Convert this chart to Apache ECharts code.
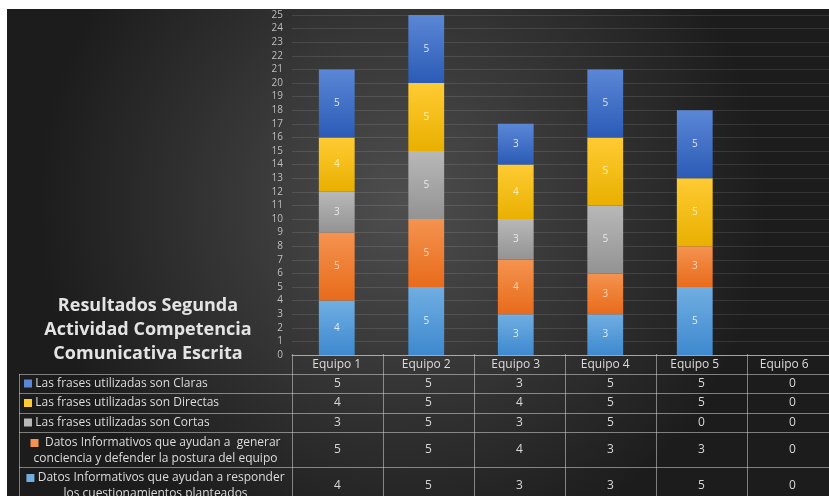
<!DOCTYPE html>
<html><head><meta charset="utf-8">
<script src="https://cdn.jsdelivr.net/npm/echarts@6/dist/echarts.min.js"></script>
<style>html,body{margin:0;padding:0;background:#fff}#c{width:829px;height:496px}</style>
</head><body><div id="c"></div>
<script>
const categories = ['Equipo 1','Equipo 2','Equipo 3','Equipo 4','Equipo 5','Equipo 6'];
const claras = [5,5,3,5,5,0];
const directas = [4,5,4,5,5,0];
const cortas = [3,5,3,5,0,0];
const conciencia = [5,5,4,3,3,0];
const responder = [4,5,3,3,5,0];
const seriesNames = [
  'Las frases utilizadas son Claras',
  'Las frases utilizadas son Directas',
  'Las frases utilizadas son Cortas',
  'Datos Informativos que ayudan a  generar conciencia y defender la postura del equipo',
  'Datos Informativos que ayudan a responder los cuestionamientos planteados'
];
const tableLabels = [
  ['Las frases utilizadas son Claras'],
  ['Las frases utilizadas son Directas'],
  ['Las frases utilizadas son Cortas'],
  [' Datos Informativos que ayudan a  generar','conciencia y defender la postura del equipo'],
  ['Datos Informativos que ayudan a responder','los cuestionamientos planteados']
];
const yTicks = {min:0, max:25, interval:1};
const titleLines = ['Resultados Segunda','Actividad Competencia','Comunicativa Escrita'];

const tableRows = [claras, directas, cortas, conciencia, responder];
const colors = [
  ['#5b87d6','#2b5bb6','#dfe6f5'],
  ['#ffcb33','#e9b000','#fff0b8'],
  ['#b8b8b8','#939393','#e8e8e8'],
  ['#f4934f','#e86b1b','#fbd6bd'],
  ['#70aee2','#3e89cf','#e0eef9']
];
// stack order bottom->top
const stackOrder = [4,3,2,1,0];

const G = {left:292, top:15, width:546, height:340};
const colW = G.width / categories.length;
const rowY = [354, 374, 393, 413, 432, 467, 520];
const legLeft = 19;
const lineCol = 'rgba(210,210,210,0.55)';
const font = '"Open Sans", sans-serif';

const series = stackOrder.map(i => ({
  name: seriesNames[i],
  type: 'bar',
  stack: 'total',
  barWidth: '40%',
  data: tableRows[i],
  itemStyle: {
    color: new echarts.graphic.LinearGradient(0,0,0,1,[{offset:0,color:colors[i][0]},{offset:1,color:colors[i][1]}])
  },
  label: {
    show: true, position: 'inside', fontSize: 10, fontFamily: font, color: colors[i][2],
    formatter: p => p.value > 0 ? p.value : ''
  }
}));

const graphics = [];
graphics.push({type:'rect', z:-10, silent:true, shape:{x:7,y:9,width:822,height:487},
  style:{fill: new echarts.graphic.RadialGradient(0.48,0.4,0.75,[{offset:0,color:'#4e4e4e'},{offset:1,color:'#1c1c1c'}])}});
// title
titleLines.forEach((t,k)=>{
  graphics.push({type:'text', x:148, y:306 + k*24, style:{text:t, fill:'#e4e4e4', font:'bold 18px "Open Sans", sans-serif', textAlign:'center', textVerticalAlign:'middle'}});
});
// horizontal lines
for (let r=1; r<rowY.length-1; r++) {
  graphics.push({type:'line', shape:{x1:legLeft,y1:rowY[r]+0.5,x2:829,y2:rowY[r]+0.5}, style:{stroke:lineCol,lineWidth:1}});
}
graphics.push({type:'line', shape:{x1:legLeft+0.5,y1:rowY[1],x2:legLeft+0.5,y2:496}, style:{stroke:lineCol,lineWidth:1}});
for (let c=0; c<categories.length; c++) {
  const x = Math.round(G.left + c*colW)+0.5;
  graphics.push({type:'line', shape:{x1:x,y1:rowY[0],x2:x,y2:496}, style:{stroke:lineCol,lineWidth:1}});
}
// table cells
tableRows.forEach((row, r) => {
  const y0 = rowY[r+1], y1 = rowY[r+2];
  const cy = r < 4 ? (y0 + y1)/2 : y0 + 19;
  row.forEach((v, c) => {
    graphics.push({type:'text', x: G.left + colW*(c+0.5), y: cy, style:{text:String(v), fill:'#d8d8d8', font:'12px '+font, textAlign:'center', textVerticalAlign:'middle'}});
  });
  const lines = tableLabels[r];
  const rich = {s:{width:8,height:8,backgroundColor:colors[r][0]}, t:{fill:'#dcdcdc', font:'12px '+font}};
  if (lines.length === 1) {
    graphics.push({type:'text', x:24, y:cy, style:{text:'{s|} {t|'+lines[0]+'}', rich, textAlign:'left', textVerticalAlign:'middle'}});
  } else {
    graphics.push({type:'text', x:(legLeft+G.left)/2, y:y0+3, style:{text:'{s|} {t|'+lines[0]+'}\n{t|'+lines[1]+'}', rich, textAlign:'center', textVerticalAlign:'top', lineHeight:16}});
  }
});

const chart = echarts.init(document.getElementById('c'));
chart.setOption({
  backgroundColor:'#ffffff',
  animation:false,
  grid:{left:G.left, top:G.top, width:G.width, height:G.height, containLabel:false},
  xAxis:{type:'category', data:categories,
    axisLine:{lineStyle:{color:'rgba(210,210,210,0.7)'}}, axisTick:{show:false},
    axisLabel:{color:'#dcdcdc', fontSize:12, fontFamily:font, margin:4}},
  yAxis:{type:'value', min:yTicks.min, max:yTicks.max, interval:yTicks.interval,
    axisLine:{show:false}, axisTick:{show:false},
    axisLabel:{color:'#bdbdbd', fontSize:10, fontFamily:font, margin:9},
    splitLine:{lineStyle:{color:'rgba(255,255,255,0.11)'}}},
  series,
  graphic: graphics
});
</script></body></html>
